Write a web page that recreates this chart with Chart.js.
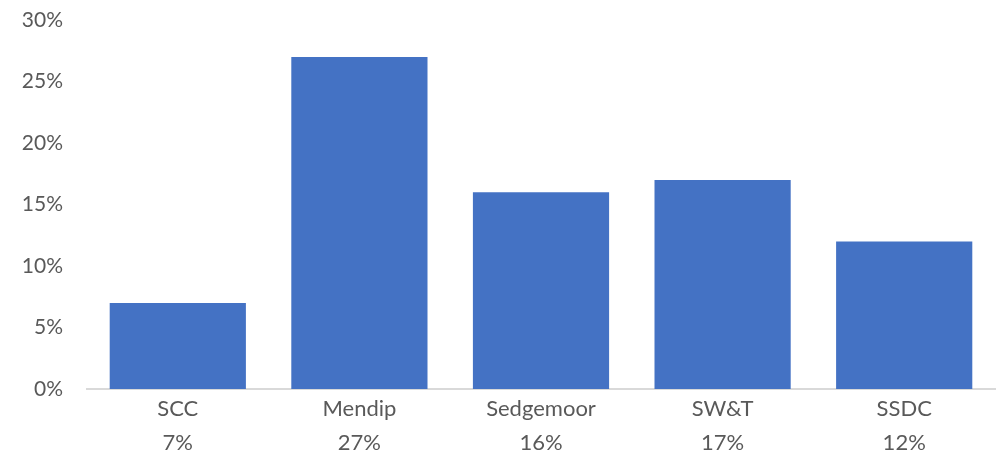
<!DOCTYPE html>
<html lang="en">
<head>
    <meta charset="UTF-8">
    <title>Share by area</title>
    <script src="https://cdn.jsdelivr.net/npm/chart.js"></script>
    <style>
        html, body { margin: 0; padding: 0; background: #fff; }
        #wrap { width: 999px; height: 459px; position: relative; }
    </style>
</head>
<body>
    <div id="wrap"><canvas id="barChart"></canvas></div>

    <script>
        // data
        const categories = ['SCC', 'Mendip', 'Sedgemoor', 'SW&T', 'SSDC'];
        const shares = [7, 27, 16, 17, 12];
        const yMax = 30;
        const yStep = 5;

        const textColor = '#595959';
        const fontFamily = 'Lato, "Open Sans", sans-serif';

        // two-line category labels: name, then value
        const xLabels = categories.map((c, i) => [c, shares[i] + '%']);

        const ctx = document.getElementById('barChart').getContext('2d');
        new Chart(ctx, {
            type: 'bar',
            data: {
                labels: xLabels,
                datasets: [{
                    data: shares,
                    backgroundColor: '#4472C4',
                    borderWidth: 0,
                    categoryPercentage: 1,
                    barPercentage: 0.75
                }]
            },
            options: {
                responsive: true,
                maintainAspectRatio: false,
                animation: false,
                layout: { padding: { top: 0, right: 4, left: 0, bottom: 0 } },
                plugins: {
                    legend: { display: false },
                    tooltip: { enabled: false }
                },
                scales: {
                    y: {
                        min: 0,
                        max: yMax,
                        grid: { display: false, drawTicks: false },
                        border: { display: false },
                        ticks: {
                            stepSize: yStep,
                            padding: 24,
                            color: textColor,
                            font: { family: fontFamily, size: 21 },
                            callback: v => v + '%'
                        },
                        afterFit: s => {
                            s.width = 87;
                            // tick padding would otherwise push the plot down
                            s.paddingTop = 20;
                            s.paddingBottom = 0;
                        }
                    },
                    x: {
                        grid: { display: false, drawTicks: false },
                        border: { display: true, color: '#d9d9d9', width: 2 },
                        ticks: {
                            padding: 3,
                            maxRotation: 0,
                            color: textColor,
                            font: { family: fontFamily, size: 22, lineHeight: 1.55 }
                        },
                        afterFit: s => { s.height = 70; }
                    }
                }
            }
        });
    </script>
</body>
</html>
